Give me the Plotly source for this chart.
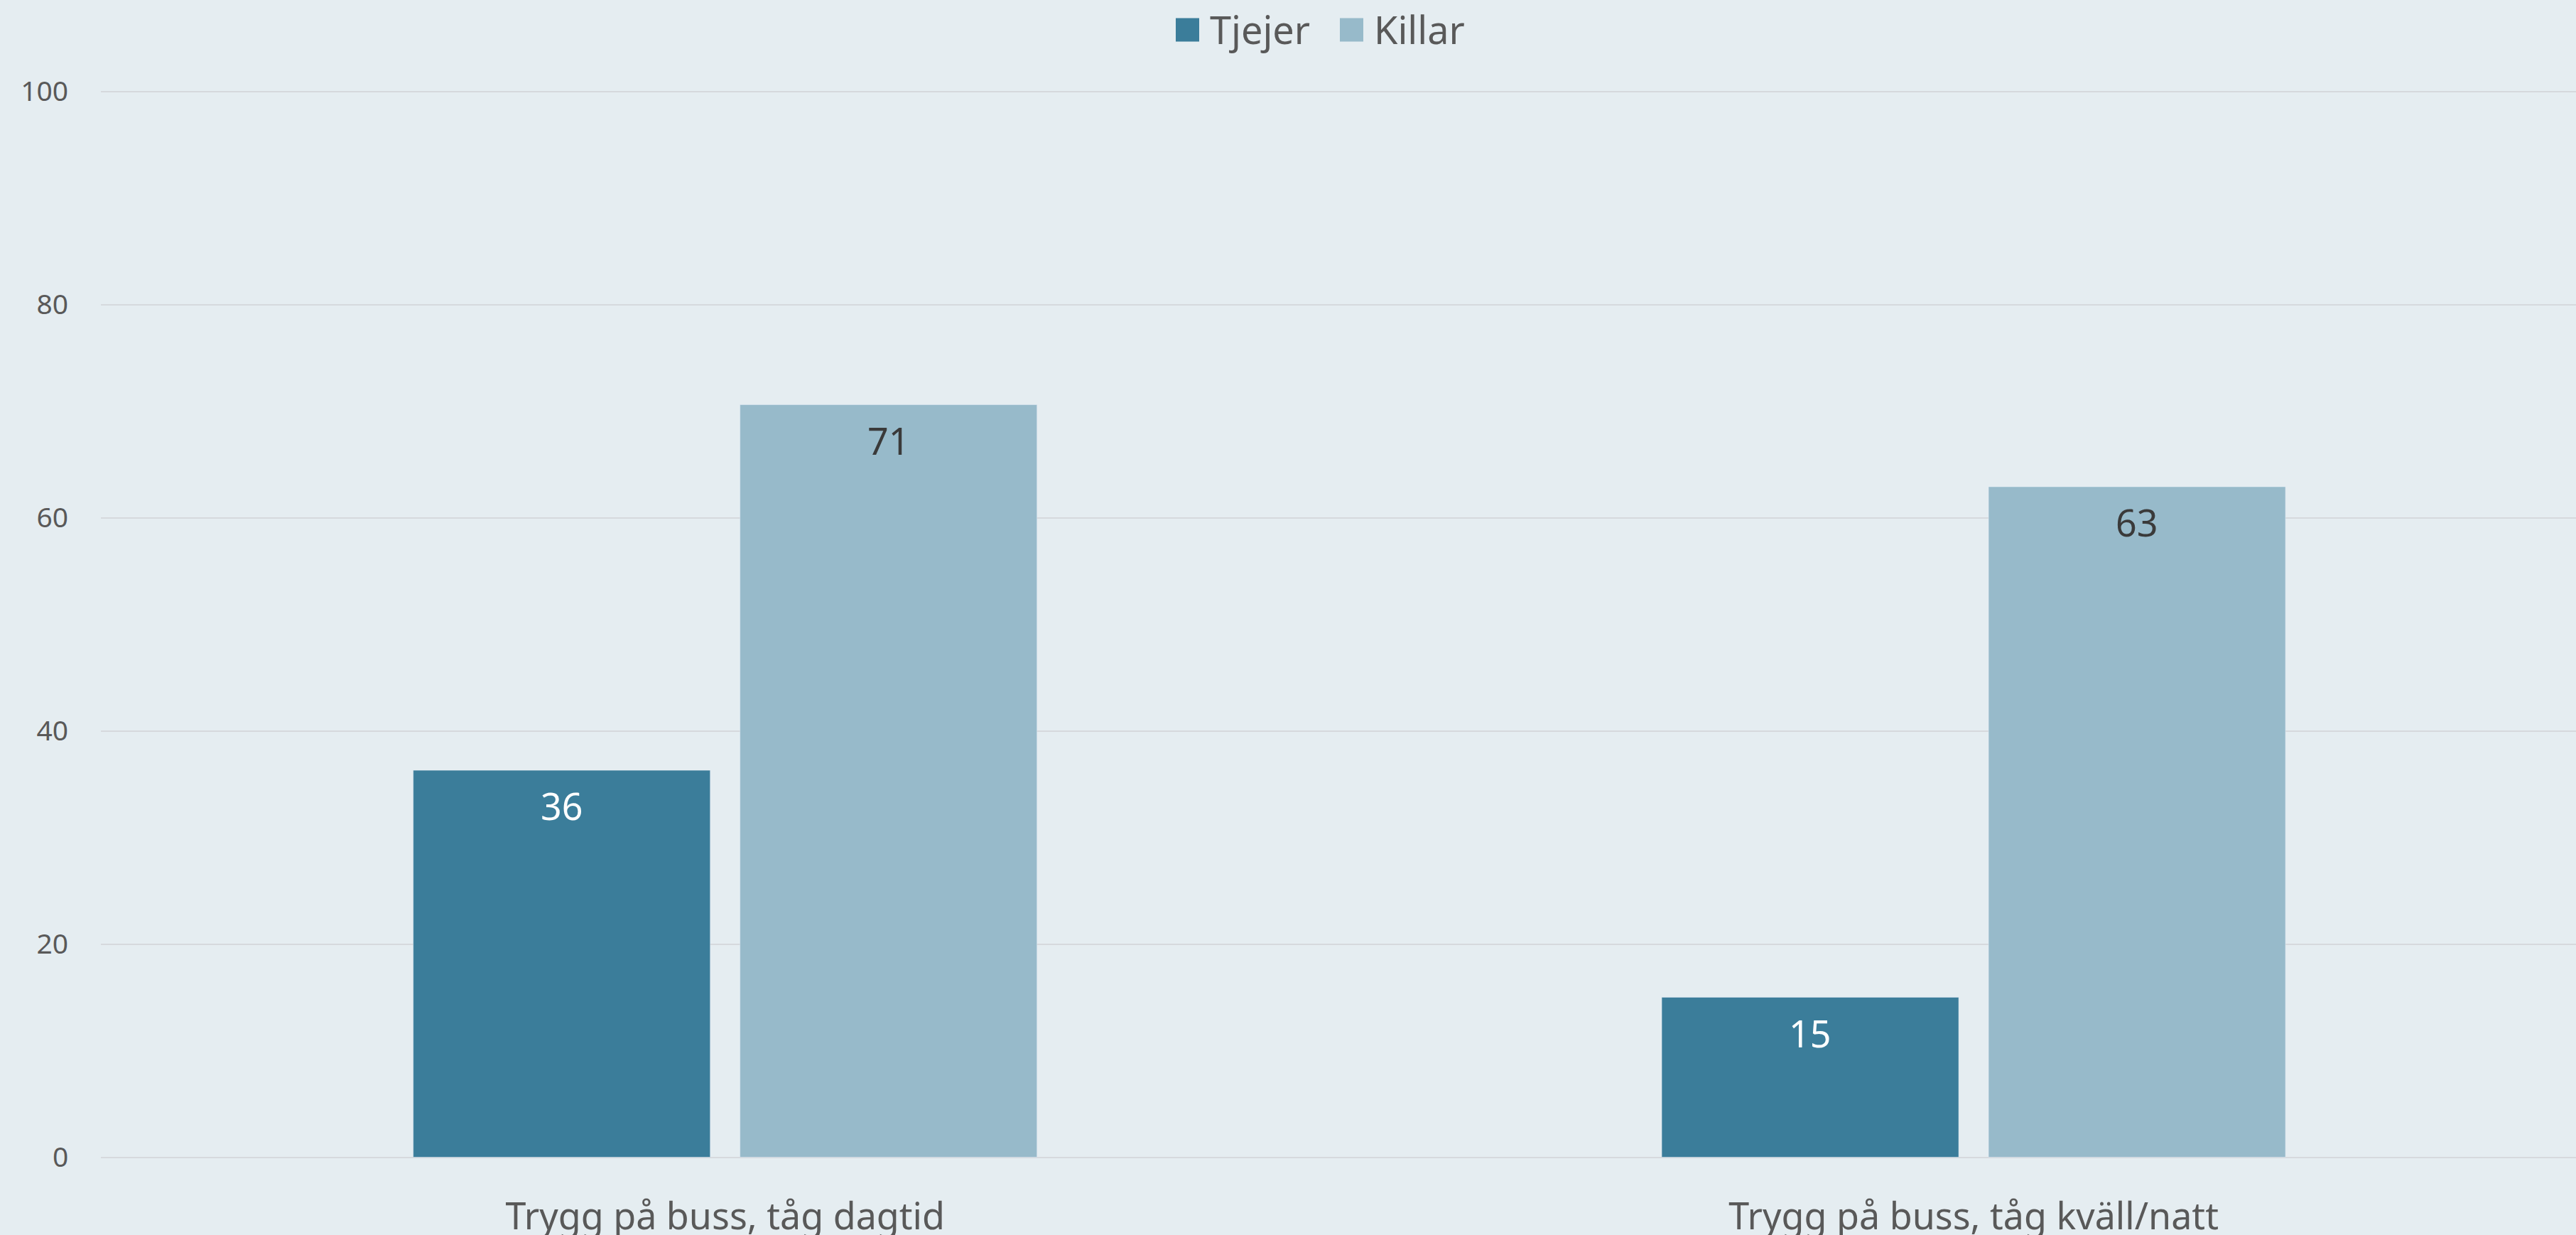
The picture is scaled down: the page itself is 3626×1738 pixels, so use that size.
import plotly.graph_objects as go

categories = ["Trygg på buss, tåg dagtid", "Trygg på buss, tåg kväll/natt"]
tjejer = [36.3, 15.0]
killar = [70.6, 62.9]
series_names = ["Tjejer", "Killar"]
y_ticks = [0, 20, 40, 60, 80, 100]

c_tj = "#3B7D9A"
c_ki = "#97BACA"
bg = "#E5EDF1"
txt = "#595959"
FONT = "Noto Sans"

W, H = 3626, 1738
L, R = 142, 0
T, B = 126.5, 107.5
PW, PH = W - L - R, H - T - B

fig = go.Figure()
fig.add_trace(go.Bar(x=categories, y=tjejer, name=series_names[0], marker_color=c_tj))
fig.add_trace(go.Bar(x=categories, y=killar, name=series_names[1], marker_color=c_ki))

# value labels inside the top of each bar
for vals, col, xs in [(tjejer, "#FFFFFF", -230), (killar, "#3A3A3A", 230)]:
    for cat, v in zip(categories, vals):
        fig.add_annotation(x=cat, y=v, text=f"{v:.0f}", showarrow=False,
                           xshift=xs, yshift=-12, yanchor="top", xanchor="center",
                           font=dict(family=FONT, size=52, color=col))

# custom legend (large square swatches)
def px_x(p):
    return (p - L) / PW

def px_y(p):
    return 1 - (p - T) / PH

legend_items = [(series_names[0], c_tj, 1655), (series_names[1], c_ki, 1886)]
for nm, col, x0 in legend_items:
    fig.add_shape(type="rect", xref="paper", yref="paper",
                  x0=px_x(x0), x1=px_x(x0 + 33), y0=px_y(58), y1=px_y(25),
                  fillcolor=col, line=dict(width=0))
    fig.add_annotation(xref="paper", yref="paper", x=px_x(x0 + 46), y=px_y(40),
                       text=nm, showarrow=False, xanchor="left", yanchor="middle",
                       font=dict(family=FONT, size=54, color=txt))

fig.update_layout(
    width=W, height=H,
    paper_bgcolor=bg, plot_bgcolor=bg,
    margin=dict(l=L, r=R, t=T, b=B, autoexpand=False),
    barmode="group", bargap=0.4765, bargroupgap=0.0913,
    font=dict(family=FONT, color=txt, size=40),
    showlegend=False,
)
fig.update_xaxes(
    range=[-0.5, 1.4825], showgrid=False, zeroline=False, showline=False,
    tickfont=dict(family=FONT, size=52, color=txt),
    ticks="outside", ticklen=37, tickcolor="rgba(0,0,0,0)",
)
fig.update_yaxes(
    range=[-0.1, 100.1], tickvals=y_ticks, showgrid=True, gridcolor="#D6D9DD",
    gridwidth=2, zeroline=False, showline=False,
    tickfont=dict(family=FONT, size=39, color=txt),
    ticks="outside", ticklen=37, tickcolor="rgba(0,0,0,0)",
)

fig.write_html("out.html", config={"displayModeBar": False},
               post_script="document.body.style.margin='0';document.body.style.overflow='hidden';")
